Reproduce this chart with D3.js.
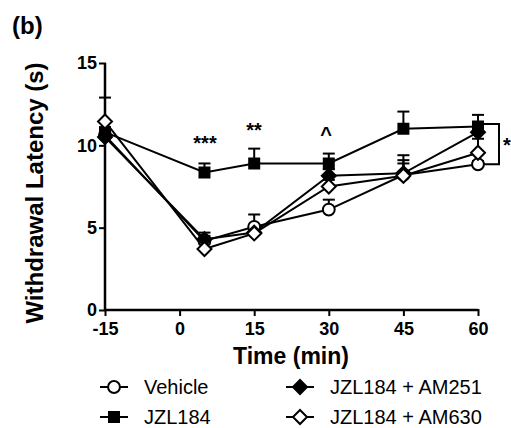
<!DOCTYPE html>
<html>
<head>
<meta charset="utf-8">
<script src="https://cdn.jsdelivr.net/npm/d3@7"></script>
<style>
  body { margin: 0; background: #fff; }
  text { font-family: Arial, "Liberation Sans", sans-serif; fill: #000; }
</style>
</head>
<body>
<div id="chart"></div>
<script>
// time points (min)
const times = [-15, 5, 15, 30, 45, 60];
const xTicks = [-15, 0, 15, 30, 45, 60];
const yTicks = [0, 5, 10, 15];

// mean latency (s) and upper SEM for each group
const vehicle = [10.6, 4.2, 5.05, 6.1, 8.2, 8.85];
const vehicleErr = [0.3, 0.3, 0.75, 0.6, 0.9, 0.2];
const jzl = [10.8, 8.35, 8.9, 8.9, 11.0, 11.15];
const jzlErr = [0.3, 0.55, 0.9, 0.6, 1.05, 0.7];
const am251 = [10.5, 4.3, 4.7, 8.15, 8.3, 10.8];
const am251Err = [0.3, 0.4, 0.4, 0.4, 1.1, 0.35];
const am630 = [11.45, 3.7, 4.65, 7.5, 8.15, 9.55];
const am630Err = [1.45, 0.3, 0.35, 0.4, 0.75, 0.85];

const groups = [
  {name: 'Vehicle', values: vehicle, err: vehicleErr, shape: 'circle', fill: '#fff'},
  {name: 'JZL184', values: jzl, err: jzlErr, shape: 'square', fill: '#000'},
  {name: 'JZL184 + AM251', values: am251, err: am251Err, shape: 'diamond', fill: '#000'},
  {name: 'JZL184 + AM630', values: am630, err: am630Err, shape: 'diamond', fill: '#fff'}
];

const width = 511, height = 428;
const svg = d3.select('#chart').append('svg')
  .attr('width', width)
  .attr('height', height);

const x = d3.scaleLinear().domain([-15, 60]).range([105, 478]);
const y = d3.scaleLinear().domain([0, 15]).range([310, 63]);

function drawMarker(g, shape, fill, cx, cy) {
  let p;
  if (shape === 'diamond') {
    const r = 7;
    p = g.append('path')
      .attr('d', `M${cx},${cy - r}L${cx + r},${cy}L${cx},${cy + r}L${cx - r},${cy}Z`);
  } else {
    const type = shape === 'circle' ? d3.symbolCircle : d3.symbolSquare;
    p = g.append('path')
      .attr('d', d3.symbol().type(type).size(shape === 'circle' ? 110 : 100)())
      .attr('transform', `translate(${cx},${cy})`);
  }
  p.attr('fill', fill).attr('stroke', '#000').attr('stroke-width', 2);
}

// axes
const xAxis = d3.axisBottom(x).tickValues(xTicks).tickFormat(d => String(d))
  .tickSize(6).tickPadding(6);
const yAxis = d3.axisLeft(y).tickValues(yTicks).tickFormat(d => String(d))
  .tickSize(6).tickPadding(2);

const gx = svg.append('g')
  .attr('transform', 'translate(0,' + y(0) + ')')
  .call(xAxis);
const gy = svg.append('g')
  .attr('transform', 'translate(' + x(-15) + ',0)')
  .call(yAxis);

[gx, gy].forEach(g => {
  g.select('.domain').remove();
  g.selectAll('.tick line').attr('stroke-width', 2);
  g.selectAll('.tick text')
    .style('font-size', '18px').style('font-weight', 'bold')
    .style('font-family', 'Arial, "Liberation Sans", sans-serif');
});
gx.selectAll('.tick line').attr('y1', -1);
gy.selectAll('.tick line').attr('x1', 1);

svg.append('line')
  .attr('x1', x(-15)).attr('x2', x(60))
  .attr('y1', y(0)).attr('y2', y(0))
  .attr('stroke', '#000').attr('stroke-width', 2.5);
svg.append('line')
  .attr('x1', x(-15)).attr('x2', x(-15))
  .attr('y1', y(15)).attr('y2', y(0))
  .attr('stroke', '#000').attr('stroke-width', 2.5);

// titles
svg.append('text')
  .attr('x', 12).attr('y', 34)
  .style('font-size', '24px').style('font-weight', 'bold')
  .text('(b)');
svg.append('text')
  .attr('transform', 'translate(43,193) rotate(-90)')
  .attr('text-anchor', 'middle')
  .style('font-size', '24px').style('font-weight', 'bold')
  .text('Withdrawal Latency (s)');
svg.append('text')
  .attr('x', 291).attr('y', 364)
  .attr('text-anchor', 'middle')
  .style('font-size', '23px').style('font-weight', 'bold')
  .text('Time (min)');

const line = d3.line()
  .x((d, i) => x(times[i]))
  .y(d => y(d));

const plot = svg.append('g');

// error bars (upper only)
groups.forEach(gr => {
  gr.values.forEach((v, i) => {
    const cx = x(times[i]), top = y(v + gr.err[i]);
    plot.append('line')
      .attr('x1', cx).attr('x2', cx).attr('y1', y(v)).attr('y2', top)
      .attr('stroke', '#000').attr('stroke-width', 2);
    plot.append('line')
      .attr('x1', cx - 6).attr('x2', cx + 6).attr('y1', top).attr('y2', top)
      .attr('stroke', '#000').attr('stroke-width', 2);
  });
});

// lines
groups.forEach(gr => {
  plot.append('path')
    .datum(gr.values)
    .attr('d', line)
    .attr('fill', 'none')
    .attr('stroke', '#000')
    .attr('stroke-width', 2);
});

// markers
groups.forEach(gr => {
  gr.values.forEach((v, i) => drawMarker(plot, gr.shape, gr.fill, x(times[i]), y(v)));
});

// significance marks
const sig = [
  {x: 205, y: 150, label: '***'},
  {x: 254, y: 137, label: '**'},
  {x: 326, y: 141, label: '^'}
];
sig.forEach(s => {
  svg.append('text')
    .attr('x', s.x).attr('y', s.y)
    .attr('text-anchor', 'middle')
    .style('font-size', '20px').style('font-weight', 'bold')
    .text(s.label);
});

// bracket at 60 min
const bx = 499;
svg.append('path')
  .attr('d', `M${x(60) + 6},${y(11.3)}H${bx}V${y(8.85)}H${x(60) + 6}`)
  .attr('fill', 'none').attr('stroke', '#000').attr('stroke-width', 2);
svg.append('text')
  .attr('x', 503).attr('y', 152)
  .style('font-size', '20px').style('font-weight', 'bold')
  .text('*');

// legend
const legendPos = [
  {x: 100, y: 387}, {x: 100, y: 417},
  {x: 286, y: 387}, {x: 286, y: 417}
];
groups.forEach((gr, i) => {
  const p = legendPos[i];
  const lg = svg.append('g');
  lg.append('line')
    .attr('x1', p.x).attr('x2', p.x + 28).attr('y1', p.y).attr('y2', p.y)
    .attr('stroke', '#000').attr('stroke-width', 2);
  drawMarker(lg, gr.shape, gr.fill, p.x + 14, p.y);
  lg.append('text')
    .attr('x', p.x + 44).attr('y', p.y + 7)
    .style('font-size', '20px')
    .text(gr.name);
});
</script>
</body>
</html>
